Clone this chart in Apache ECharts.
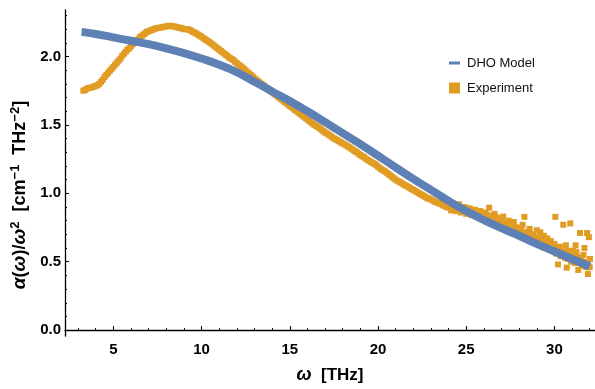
<!DOCTYPE html>
<html lang="en">
<head>
    <meta charset="UTF-8">
    <title>DHO model vs experiment</title>
</head>
<style>
    html, body{
        margin: 0;
        padding: 0;
        background-color: #fff;
    }
    .main{
        width: 595px;
        height: 389px;
    }
</style>
<body>
<div id="main" class="main"></div>
<script src="https://cdn.jsdelivr.net/npm/echarts@6/dist/echarts.min.js"></script>
<script>
    // axis ranges + tick labels
    var xMin = 2.26, xMax = 32.3;
    var yMin = -0.043, yMax = 2.34;
    var xTicks = [5, 10, 15, 20, 25, 30];
    var yTicks = [0, 0.5, 1.0, 1.5, 2.0];

    // DHO model curve
    var dhoX = [3.2, 4, 5, 6, 7, 8, 9, 10, 11, 12, 13, 14, 15, 16, 17, 18, 19, 20, 21, 22, 23, 24, 25, 26, 27, 28, 29, 30, 31, 32];
    var dhoY = [2.18, 2.165, 2.14, 2.115, 2.09, 2.06, 2.025, 1.985, 1.94, 1.885, 1.815, 1.745, 1.675, 1.60, 1.52, 1.44, 1.36, 1.275, 1.19, 1.105, 1.025, 0.945, 0.87, 0.805, 0.745, 0.69, 0.63, 0.575, 0.52, 0.465];

    // experiment, dense part (3.3 .. 24 THz, step 0.1)
    var expX = [
        3.3, 3.4, 3.5, 3.6, 3.7, 3.8, 3.9, 4.0, 4.1, 4.2, 4.3, 4.4, 4.5, 4.6, 4.7, 4.8, 4.9, 5.0, 5.1, 5.2,
        5.3, 5.4, 5.5, 5.6, 5.7, 5.8, 5.9, 6.0, 6.1, 6.2, 6.3, 6.4, 6.5, 6.6, 6.7, 6.8, 6.9, 7.0, 7.1, 7.2,
        7.3, 7.4, 7.5, 7.6, 7.7, 7.8, 7.9, 8.0, 8.1, 8.2, 8.3, 8.4, 8.5, 8.6, 8.7, 8.8, 8.9, 9.0, 9.1, 9.2,
        9.3, 9.4, 9.5, 9.6, 9.7, 9.8, 9.9, 10.0, 10.1, 10.2, 10.3, 10.4, 10.5, 10.6, 10.7, 10.8, 10.9, 11.0, 11.1, 11.2,
        11.3, 11.4, 11.5, 11.6, 11.7, 11.8, 11.9, 12.0, 12.1, 12.2, 12.3, 12.4, 12.5, 12.6, 12.7, 12.8, 12.9, 13.0, 13.1, 13.2,
        13.3, 13.4, 13.5, 13.6, 13.7, 13.8, 13.9, 14.0, 14.1, 14.2, 14.3, 14.4, 14.5, 14.6, 14.7, 14.8, 14.9, 15.0, 15.1, 15.2,
        15.3, 15.4, 15.5, 15.6, 15.7, 15.8, 15.9, 16.0, 16.1, 16.2, 16.3, 16.4, 16.5, 16.6, 16.7, 16.8, 16.9, 17.0, 17.1, 17.2,
        17.3, 17.4, 17.5, 17.6, 17.7, 17.8, 17.9, 18.0, 18.1, 18.2, 18.3, 18.4, 18.5, 18.6, 18.7, 18.8, 18.9, 19.0, 19.1, 19.2,
        19.3, 19.4, 19.5, 19.6, 19.7, 19.8, 19.9, 20.0, 20.1, 20.2, 20.3, 20.4, 20.5, 20.6, 20.7, 20.8, 20.9, 21.0, 21.1, 21.2,
        21.3, 21.4, 21.5, 21.6, 21.7, 21.8, 21.9, 22.0, 22.1, 22.2, 22.3, 22.4, 22.5, 22.6, 22.7, 22.8, 22.9, 23.0, 23.1, 23.2,
        23.3, 23.4, 23.5, 23.6, 23.7, 23.8, 23.9, 24.0
    ];
    var expY = [
        1.75, 1.755, 1.765, 1.77, 1.772, 1.775, 1.78, 1.785, 1.79, 1.80, 1.815, 1.83, 1.85, 1.865, 1.88, 1.895, 1.91, 1.925, 1.94, 1.955,
        1.97, 1.985, 2.005, 2.02, 2.035, 2.05, 2.06, 2.075, 2.09, 2.10, 2.115, 2.125, 2.14, 2.15, 2.16, 2.17, 2.18, 2.185, 2.19, 2.195,
        2.20, 2.205, 2.208, 2.21, 2.212, 2.215, 2.218, 2.22, 2.222, 2.225, 2.222, 2.22, 2.218, 2.215, 2.21, 2.21, 2.205, 2.20, 2.20, 2.20,
        2.195, 2.19, 2.18, 2.175, 2.168, 2.16, 2.152, 2.145, 2.135, 2.125, 2.118, 2.11, 2.10, 2.09, 2.08, 2.07, 2.06, 2.05, 2.04, 2.03,
        2.02, 2.01, 2.00, 1.99, 1.982, 1.975, 1.962, 1.95, 1.94, 1.93, 1.92, 1.91, 1.898, 1.885, 1.875, 1.865, 1.852, 1.84, 1.83, 1.82,
        1.81, 1.80, 1.79, 1.78, 1.77, 1.76, 1.75, 1.74, 1.73, 1.72, 1.71, 1.70, 1.69, 1.68, 1.67, 1.66, 1.65, 1.64, 1.63, 1.62,
        1.61, 1.60, 1.59, 1.58, 1.57, 1.56, 1.55, 1.54, 1.53, 1.52, 1.51, 1.50, 1.492, 1.485, 1.475, 1.465, 1.455, 1.445, 1.438, 1.43,
        1.42, 1.41, 1.402, 1.395, 1.388, 1.38, 1.372, 1.365, 1.358, 1.35, 1.342, 1.335, 1.325, 1.315, 1.308, 1.30, 1.29, 1.28, 1.272, 1.265,
        1.255, 1.245, 1.238, 1.23, 1.222, 1.215, 1.205, 1.195, 1.185, 1.175, 1.168, 1.16, 1.15, 1.14, 1.13, 1.12, 1.11, 1.10, 1.092, 1.085,
        1.078, 1.07, 1.062, 1.055, 1.048, 1.04, 1.032, 1.025, 1.018, 1.01, 1.002, 0.995, 0.988, 0.98, 0.972, 0.965, 0.96, 0.955, 0.948, 0.94,
        0.935, 0.93, 0.925, 0.92, 0.912, 0.905, 0.90, 0.895
    ];

    // experiment, scattered tail (24 .. 32 THz)
    var tailX = [
        24.1, 24.15, 24.2, 24.3, 24.35, 24.4, 24.5, 24.55, 24.6, 24.65, 24.7, 24.75, 24.8, 24.85, 24.9, 24.95, 25.0, 25.05, 25.1, 25.15,
        25.2, 25.25, 25.3, 25.35, 25.4, 25.45, 25.5, 25.55, 25.6, 25.65, 25.7, 25.75, 25.8, 25.85, 25.9, 25.95, 26.0, 26.05, 26.1, 26.15,
        26.2, 26.25, 26.3, 26.4, 26.45, 26.5, 26.55, 26.6, 26.65, 26.7, 26.75, 26.8, 26.85, 26.9, 26.95, 27.0, 27.05, 27.1, 27.15, 27.2,
        27.25, 27.3, 27.35, 27.4, 27.45, 27.5, 27.55, 27.6, 27.65, 27.7, 27.75, 27.8, 27.85, 27.9, 27.95, 28.0, 28.05, 28.1, 28.15, 28.2,
        28.25, 28.3, 28.4, 28.45, 28.5, 28.55, 28.6, 28.65, 28.7, 28.75, 28.8, 28.85, 28.9, 28.95, 29.0, 29.05, 29.1, 29.15, 29.2, 29.25,
        29.3, 29.35, 29.4, 29.45, 29.5, 29.55, 29.6, 29.65, 29.7, 29.75, 29.8, 29.85, 29.9, 29.95, 30.0, 30.05, 30.1, 30.15, 30.2, 30.25,
        30.3, 30.35, 30.4, 30.45, 30.5, 30.55, 30.6, 30.65, 30.7, 30.75, 30.8, 30.85, 30.9, 30.95, 31.0, 31.05, 31.1, 31.15, 31.2, 31.25,
        31.3, 31.35, 31.4, 31.45, 31.5, 31.55, 31.6, 31.65, 31.7, 31.75, 31.8, 31.85, 31.9, 31.92, 31.95, 32.0, 32.02
    ];
    var tailY = [
        0.90, 0.875, 0.88, 0.91, 0.895, 0.87, 0.89, 0.875, 0.92, 0.90, 0.86, 0.895, 0.88, 0.865, 0.90, 0.875, 0.85, 0.89, 0.87, 0.855,
        0.89, 0.87, 0.84, 0.86, 0.86, 0.845, 0.88, 0.86, 0.83, 0.87, 0.85, 0.84, 0.87, 0.855, 0.82, 0.835, 0.84, 0.85, 0.86, 0.82,
        0.80, 0.84, 0.895, 0.83, 0.815, 0.79, 0.80, 0.85, 0.83, 0.81, 0.795, 0.82, 0.80, 0.77, 0.81, 0.79, 0.77, 0.83, 0.785, 0.75,
        0.76, 0.78, 0.765, 0.80, 0.775, 0.74, 0.745, 0.76, 0.73, 0.79, 0.755, 0.72, 0.74, 0.75, 0.715, 0.70, 0.74, 0.73, 0.70, 0.77,
        0.715, 0.828, 0.69, 0.705, 0.72, 0.68, 0.74, 0.70, 0.67, 0.66, 0.70, 0.68, 0.66, 0.65, 0.73, 0.64, 0.68, 0.66, 0.715, 0.625,
        0.64, 0.655, 0.69, 0.60, 0.62, 0.64, 0.67, 0.615, 0.60, 0.585, 0.65, 0.62, 0.58, 0.595, 0.63, 0.828, 0.56, 0.60, 0.48, 0.565,
        0.61, 0.54, 0.55, 0.59, 0.77, 0.57, 0.53, 0.62, 0.457, 0.52, 0.58, 0.55, 0.78, 0.50, 0.51, 0.58, 0.55, 0.49, 0.62, 0.57,
        0.50, 0.44, 0.53, 0.71, 0.53, 0.47, 0.48, 0.55, 0.60, 0.50, 0.46, 0.71, 0.41, 0.47, 0.68, 0.46, 0.52
    ];

    var xMinor = [];
    for (var k = 3; k <= 32; k++) xMinor.push(k);
    var yMinor = [];
    for (var m = 0; m <= 23; m++) yMinor.push(Math.round(m * 10) / 100);

    var dhoData = [];
    for (var i = 0; i < dhoX.length; i++) dhoData.push([dhoX[i], dhoY[i]]);
    var expData = [];
    for (var j = 0; j < expX.length; j++) expData.push([expX[j], expY[j]]);
    for (var t = 0; t < tailX.length; t++) expData.push([tailX[t], tailY[t]]);

    var FONT = 'Liberation Sans';
    var BLUE = '#5E81B5', ORANGE = '#E19C24';

    var app = echarts.init(document.getElementById('main'));

    var option = {
        animation: false,
        grid: {left: 65, right: 0, top: 10, bottom: 49},
        legend: [
            {
                data: ['DHO Model'],
                left: 449, top: 56,
                padding: 0,
                itemWidth: 11, itemHeight: 3,
                icon: 'rect',
                textStyle: {fontFamily: FONT, fontSize: 13, color: '#111', lineHeight: 14, padding: [0, 0, 0, 2]}
            },
            {
                data: ['Experiment'],
                left: 449, top: 81,
                padding: 0,
                itemWidth: 11, itemHeight: 11,
                icon: 'rect',
                textStyle: {fontFamily: FONT, fontSize: 13, color: '#111', lineHeight: 14, padding: [0, 0, 0, 2]}
            }
        ],
        xAxis: [
            {
                type: 'value', min: xMin, max: xMax, position: 'bottom',
                axisLine: {show: true, lineStyle: {color: '#000', width: 1.3}},
                axisTick: {show: true, inside: true, length: 4, customValues: xTicks, lineStyle: {color: '#000'}},
                axisLabel: {customValues: xTicks, color: '#000', fontFamily: FONT, fontSize: 15, fontWeight: 'bold', margin: 6},
                splitLine: {show: false},
                name: '{i|ω}{b|  [THz]}',
                nameLocation: 'middle',
                nameGap: 30,
                nameTextStyle: {
                    rich: {
                        i: {fontFamily: FONT, fontSize: 18, fontWeight: 'bold', fontStyle: 'italic', color: '#000'},
                        b: {fontFamily: FONT, fontSize: 17, fontWeight: 'bold', color: '#000'}
                    }
                }
            },
            {
                type: 'value', min: xMin, max: xMax, position: 'bottom',
                axisLine: {show: false},
                axisTick: {show: true, inside: true, length: 2, customValues: xMinor, lineStyle: {color: '#000'}},
                axisLabel: {show: false},
                splitLine: {show: false}
            }
        ],
        yAxis: [
            {
                type: 'value', min: yMin, max: yMax, position: 'left',
                axisLine: {show: true, lineStyle: {color: '#000', width: 1.3}},
                axisTick: {show: true, inside: true, length: 4, customValues: yTicks, lineStyle: {color: '#000'}},
                axisLabel: {
                    customValues: yTicks, color: '#000', fontFamily: FONT, fontSize: 15, fontWeight: 'bold', margin: 4,
                    formatter: function (v) { return v.toFixed(1); }
                },
                splitLine: {show: false},
                name: '{i|α}{b|(}{i|ω}{b|)/}{i|ω}{s|2}{b|  [cm}{s|−1}{b|  THz}{s|−2}{b|]}',
                nameLocation: 'middle',
                nameRotate: 90,
                nameGap: 32,
                nameTextStyle: {
                    padding: [0, 44, 0, 0],
                    rich: {
                        i: {fontFamily: FONT, fontSize: 19, fontWeight: 'bold', fontStyle: 'italic', color: '#000', lineHeight: 22},
                        b: {fontFamily: FONT, fontSize: 18, fontWeight: 'bold', color: '#000', lineHeight: 22},
                        s: {fontFamily: FONT, fontSize: 13, fontWeight: 'bold', color: '#000', verticalAlign: 'top', lineHeight: 13}
                    }
                }
            },
            {
                type: 'value', min: yMin, max: yMax, position: 'left',
                axisLine: {show: false},
                axisTick: {show: true, inside: true, length: 2, customValues: yMinor, lineStyle: {color: '#000'}},
                axisLabel: {show: false},
                splitLine: {show: false}
            }
        ],
        series: [
            {
                name: 'DHO Model',
                type: 'line',
                xAxisIndex: 0, yAxisIndex: 0,
                smooth: true,
                symbol: 'none',
                lineStyle: {width: 8, color: BLUE},
                itemStyle: {color: BLUE},
                data: dhoData
            },
            {
                name: 'Experiment',
                type: 'scatter',
                xAxisIndex: 0, yAxisIndex: 0,
                symbol: 'rect',
                symbolSize: 6,
                itemStyle: {color: ORANGE, opacity: 1},
                data: expData
            }
        ]
    };
    app.setOption(option);
</script>
</body>
</html>
